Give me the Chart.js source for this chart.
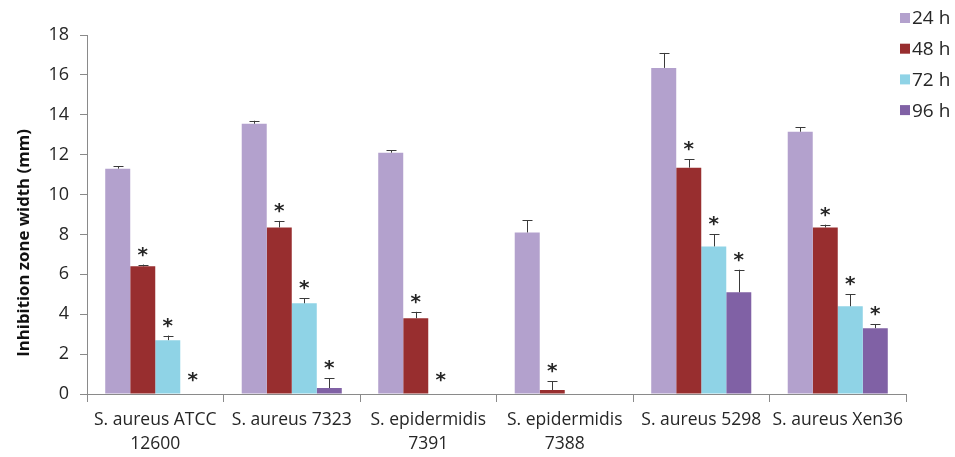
<!DOCTYPE html>
<html>
<head>
<meta charset="utf-8">
<script src="https://cdn.jsdelivr.net/npm/chart.js@4/dist/chart.umd.min.js"></script>
<style>
  html, body { margin: 0; padding: 0; background: #fff; }
  #wrap { width: 955px; height: 457px; }
</style>
</head>
<body>
<div id="wrap"><canvas id="zoneChart"></canvas></div>
<script>
// strains on the x axis
const strains = [
    ['S. aureus ATCC', '12600'],
    'S. aureus 7323',
    ['S. epidermidis', '7391'],
    ['S. epidermidis', '7388'],
    'S. aureus 5298',
    'S. aureus Xen36'
];

// inhibition zone width (mm)
const h24 = [11.3, 13.55, 12.1, 8.1, 16.35, 13.15];
const h48 = [6.4, 8.35, 3.8, 0.2, 11.35, 8.35];
const h72 = [2.7, 4.55, 0, 0, 7.4, 4.4];
const h96 = [0, 0.3, 0, 0, 5.1, 3.3];

// error bars (+)
const err24 = [0.13, 0.15, 0.12, 0.6, 0.75, 0.22];
const err48 = [0.09, 0.33, 0.32, 0.45, 0.43, 0.14];
const err72 = [0.23, 0.25, 0, 0, 0.62, 0.6];
const err96 = [0, 0.5, 0, 0, 1.13, 0.21];

// significance marks (*)
const star24 = [false, false, false, false, false, false];
const star48 = [true, true, true, true, true, true];
const star72 = [true, true, true, false, true, true];
const star96 = [true, true, false, false, true, true];

const yTicks = [0, 2, 4, 6, 8, 10, 12, 14, 16, 18];
const yTitle = 'Inhibition zone width (mm)';

const axisColor = '#8a8a8a';
const textColor = '#262626';

const series = [
    { label: '24 h', data: h24, err: err24, star: star24, color: '#b3a1cd' },
    { label: '48 h', data: h48, err: err48, star: star48, color: '#982e2f' },
    { label: '72 h', data: h72, err: err72, star: star72, color: '#8fd3e6' },
    { label: '96 h', data: h96, err: err96, star: star96, color: '#8061a5' }
];

// error bars + asterisks
const markers = {
    id: 'markers',
    afterDatasetsDraw: (chart) => {
        const ctx = chart.ctx;
        const yScale = chart.scales.y;
        ctx.save();
        chart.data.datasets.forEach((ds, d) => {
            const meta = chart.getDatasetMeta(d);
            meta.data.forEach((bar, i) => {
                const v = ds.data[i];
                const e = ds.errData[i];
                let topY = yScale.getPixelForValue(v);
                if (e > 0) {
                    const yErr = yScale.getPixelForValue(v + e);
                    ctx.strokeStyle = '#3a3a3a';
                    ctx.lineWidth = 1;
                    ctx.beginPath();
                    ctx.moveTo(Math.round(bar.x) + 0.5, topY);
                    ctx.lineTo(Math.round(bar.x) + 0.5, yErr);
                    ctx.moveTo(Math.round(bar.x) - 4.5, Math.round(yErr) + 0.5);
                    ctx.lineTo(Math.round(bar.x) + 5.5, Math.round(yErr) + 0.5);
                    ctx.stroke();
                    topY = yErr;
                }
                if (ds.stars[i]) {
                    const cy = v === 0 ? topY - 20 : topY - 16;
                    ctx.fillStyle = '#262626';
                    ctx.font = 'bold 20px "DejaVu Sans"';
                    ctx.textAlign = 'center';
                    ctx.textBaseline = 'alphabetic';
                    ctx.fillText('*', bar.x, cy + 12);
                }
            });
        });
        ctx.restore();
    }
};

// legend at top right + y axis title
const legendBox = {
    id: 'legendBox',
    afterDraw: (chart) => {
        const ctx = chart.ctx;
        ctx.save();
        ctx.font = '19px "Open Sans"';
        ctx.textBaseline = 'middle';
        ctx.textAlign = 'left';
        chart.data.datasets.forEach((ds, d) => {
            const cy = 18 + d * 30.7;
            ctx.fillStyle = ds.backgroundColor;
            ctx.fillRect(900, cy - 5, 10, 10);
            ctx.fillStyle = textColor;
            ctx.fillText(ds.label, 912, cy + 1);
        });

        // axis title sits a little below the plot's middle, like the original
        ctx.translate(24, 243);
        ctx.rotate(-Math.PI / 2);
        ctx.font = 'bold 16.8px "Open Sans"';
        ctx.fillStyle = '#111111';
        ctx.textAlign = 'center';
        ctx.fillText(yTitle, 0, 0);
        ctx.restore();
    }
};

const zoneChart = document.getElementById('zoneChart');
const myZoneChart = new Chart(zoneChart, {
    type: 'bar',
    data: {
        labels: strains,
        datasets: series.map(s => ({
            label: s.label,
            data: s.data,
            errData: s.err,
            stars: s.star,
            backgroundColor: s.color,
            borderWidth: 0,
            categoryPercentage: 0.733,
            barPercentage: 1
        }))
    },
    plugins: [markers, legendBox],
    options: {
        responsive: true,
        maintainAspectRatio: false,
        animation: false,
        layout: {
            padding: { top: 35, right: 49, bottom: 0, left: 0 }
        },
        plugins: {
            legend: { display: false },
            tooltip: { enabled: false }
        },
        scales: {
            x: {
                grid: {
                    display: true,
                    drawOnChartArea: false,
                    drawTicks: true,
                    tickLength: 8,
                    color: axisColor
                },
                border: { color: axisColor },
                ticks: {
                    color: textColor,
                    padding: 6,
                    maxRotation: 0,
                    autoSkip: false,
                    font: { family: 'Open Sans', size: 17.5, lineHeight: 1.37 }
                },
                afterFit: (scale) => { scale.height = 63; }
            },
            y: {
                min: 0,
                max: 18,
                afterBuildTicks: (scale) => { scale.ticks = yTicks.map(v => ({ value: v })); },
                grid: {
                    display: true,
                    drawOnChartArea: false,
                    drawTicks: true,
                    tickLength: 7,
                    color: axisColor
                },
                border: { color: axisColor },
                ticks: {
                    color: textColor,
                    padding: 11,
                    font: { family: 'Open Sans', size: 18 }
                },
                afterFit: (scale) => { scale.width = 87; }
            }
        }
    }
});
</script>
</body>
</html>
